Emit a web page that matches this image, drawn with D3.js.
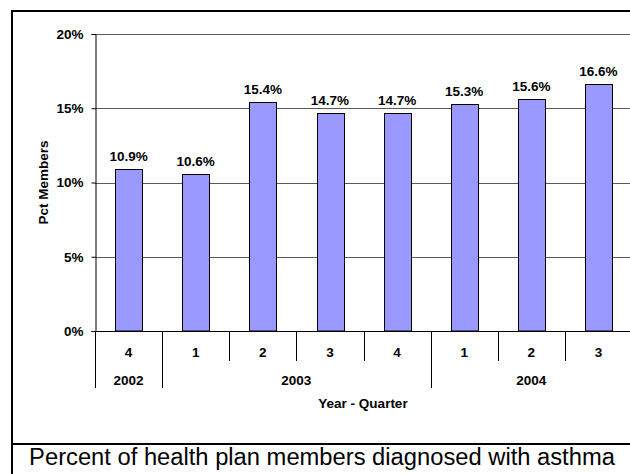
<!DOCTYPE html>
<html>
<head>
<meta charset="utf-8">
<script src="https://cdn.jsdelivr.net/npm/d3@7/dist/d3.min.js"></script>
<style>
  html, body { margin: 0; padding: 0; background: #fff; }
  svg { display: block; }
  text { font-family: Arial, "Liberation Sans", sans-serif; }
</style>
</head>
<body>
<svg id="chart" width="630" height="474"></svg>
<script>
// Asthma diagnosis share by year and quarter
const quarters = ["4", "1", "2", "3", "4", "1", "2", "3"];
const years = ["2002", "2003", "2003", "2003", "2003", "2004", "2004", "2004"];
const values = [10.9, 10.6, 15.4, 14.7, 14.7, 15.3, 15.6, 16.6];
const yTicks = [0, 5, 10, 15, 20];
const yTitle = "Pct Members";
const xTitle = "Year - Quarter";
const caption = "Percent of health plan members diagnosed with asthma";

const svg = d3.select("#chart");
const W = 630, H = 474;
const plot = { left: 95, right: 632, top: 34, bottom: 331 };
const labelSize = 13.5;

const ids = values.map((_, i) => i);
const x = d3.scaleBand().domain(ids).range([plot.left, plot.right]).paddingInner(0).paddingOuter(0);
const y = d3.scaleLinear().domain([0, 20]).range([plot.bottom, plot.top]);

// outer frame and caption divider
svg.append("line").attr("x1", 12).attr("x2", 12).attr("y1", 10).attr("y2", H).attr("stroke", "#000").attr("stroke-width", 2);
svg.append("line").attr("x1", 11).attr("x2", W).attr("y1", 11).attr("y2", 11).attr("stroke", "#000").attr("stroke-width", 2);
svg.append("line").attr("x1", 11).attr("x2", W).attr("y1", 444).attr("y2", 444).attr("stroke", "#000").attr("stroke-width", 2);

// horizontal gridlines
svg.append("g")
  .selectAll("line").data(yTicks.filter(d => d > 0)).join("line")
  .attr("x1", plot.left).attr("x2", W)
  .attr("y1", d => Math.round(y(d)) + 0.5).attr("y2", d => Math.round(y(d)) + 0.5)
  .attr("stroke", "#595959").attr("stroke-width", 1);

// y axis
const yAxis = svg.append("g")
  .attr("transform", `translate(${plot.left + 0.5},0)`)
  .call(d3.axisLeft(y).tickValues(yTicks).tickFormat(d => d + "%").tickSize(4).tickPadding(8));
yAxis.select(".domain").attr("stroke", "#000");
yAxis.selectAll(".tick line").attr("stroke", "#000");
yAxis.selectAll(".tick text")
  .attr("font-size", labelSize).attr("font-weight", "bold").attr("fill", "#000")
  .attr("font-family", "Arial, 'Liberation Sans', sans-serif");

// bars
svg.append("g")
  .selectAll("rect").data(ids).join("rect")
  .attr("x", i => Math.round(x(i) + x.bandwidth() * 0.3) + 0.5)
  .attr("width", Math.round(x.bandwidth() * 0.4))
  .attr("y", i => Math.round(y(values[i])) + 0.5)
  .attr("height", i => y(0) - Math.round(y(values[i])) - 0.5)
  .attr("fill", "#9999FF").attr("stroke", "#000").attr("stroke-width", 1);

// value labels
svg.append("g")
  .selectAll("text").data(ids).join("text")
  .attr("x", i => x(i) + x.bandwidth() / 2)
  .attr("y", i => y(values[i]) - 8)
  .attr("text-anchor", "middle")
  .attr("font-size", labelSize).attr("font-weight", "bold")
  .text(i => values[i].toFixed(1) + "%");

// x baseline
svg.append("line").attr("x1", plot.left).attr("x2", W)
  .attr("y1", plot.bottom + 0.5).attr("y2", plot.bottom + 0.5).attr("stroke", "#000");

// quarter row: separators and labels
const qRowBottom = 361, yRowBottom = 388;
svg.append("g")
  .selectAll("line").data(ids).join("line")
  .attr("x1", i => Math.round(x(i)) + 0.5).attr("x2", i => Math.round(x(i)) + 0.5)
  .attr("y1", plot.bottom)
  .attr("y2", i => (i === 0 || years[i] !== years[i - 1]) ? yRowBottom : qRowBottom)
  .attr("stroke", "#000");

svg.append("g")
  .selectAll("text").data(ids).join("text")
  .attr("x", i => x(i) + x.bandwidth() / 2)
  .attr("y", 357)
  .attr("text-anchor", "middle")
  .attr("font-size", labelSize).attr("font-weight", "bold")
  .text(i => quarters[i]);

// year row: one label centred over each run of quarters
const yearGroups = d3.groups(ids, i => years[i]);
svg.append("g")
  .selectAll("text").data(yearGroups).join("text")
  .attr("x", ([, idx]) => (x(idx[0]) + x(idx[idx.length - 1]) + x.bandwidth()) / 2)
  .attr("y", 385)
  .attr("text-anchor", "middle")
  .attr("font-size", labelSize).attr("font-weight", "bold")
  .text(([yr]) => yr);

// axis titles
svg.append("text")
  .attr("x", 363)
  .attr("y", 408)
  .attr("text-anchor", "middle")
  .attr("font-size", labelSize).attr("font-weight", "bold")
  .text(xTitle);

svg.append("text")
  .attr("transform", `translate(48,${(plot.top + plot.bottom) / 2}) rotate(-90)`)
  .attr("text-anchor", "middle")
  .attr("font-size", labelSize).attr("font-weight", "bold")
  .text(yTitle);

// caption
const cap = svg.append("text")
  .attr("x", 322)
  .attr("y", 465)
  .attr("text-anchor", "middle")
  .attr("font-size", 20)
  .attr("fill", "#000")
  .text(caption);
const capW = cap.node().getComputedTextLength();
cap.attr("font-size", 20 * 586 / capW);
</script>
</body>
</html>
